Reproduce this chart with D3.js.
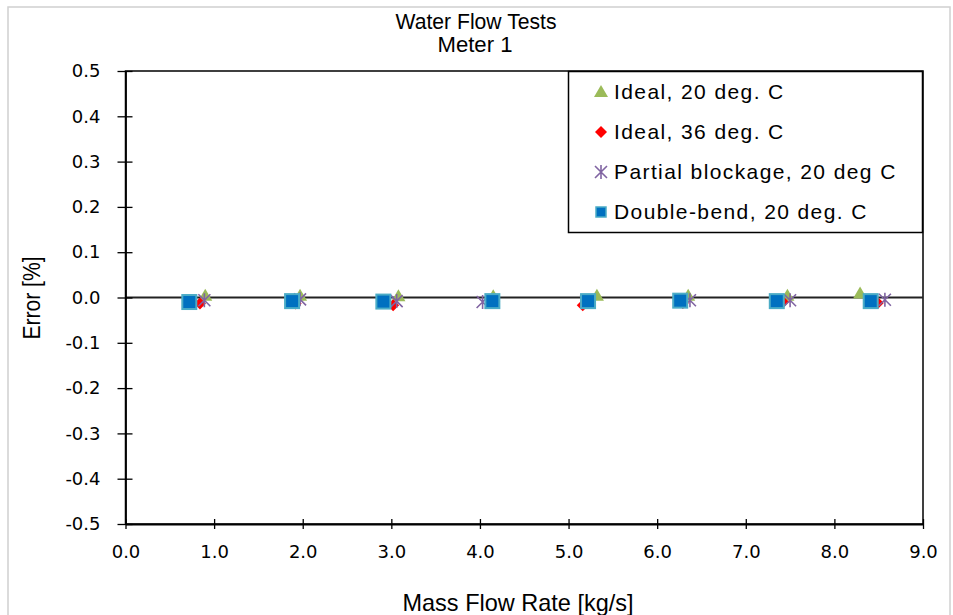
<!DOCTYPE html>
<html>
<head>
<meta charset="utf-8">
<script src="https://cdn.jsdelivr.net/npm/d3@7"></script>
<style>
  body { margin: 0; background: #fff; }
  .narrow { font-family: "Liberation Sans", Arial, sans-serif; }
</style>
</head>
<body>
<svg width="953" height="615"></svg>
<script>
// series
var seriesNames = ["Ideal, 20 deg. C", "Ideal, 36 deg. C", "Partial blockage, 20 deg C", "Double-bend, 20 deg. C"];

var ideal20X = [0.90, 1.97, 3.08, 4.15, 5.32, 6.35, 7.47, 8.29];
var ideal20Y = [0.004, 0.004, 0.003, 0.003, 0.004, 0.004, 0.004, 0.009];

var ideal36X = [0.84, 1.92, 3.02, 4.15, 5.16, 6.29, 7.42, 8.49];
var ideal36Y = [-0.013, -0.013, -0.017, -0.012, -0.017, -0.012, -0.010, -0.012];

var blockX = [0.89, 1.97, 3.06, 4.03, 5.20, 6.37, 7.50, 8.57];
var blockY = [-0.006, -0.004, -0.008, -0.010, -0.008, -0.006, -0.006, -0.005];

var bendX = [0.72, 1.88, 2.91, 4.14, 5.22, 6.26, 7.35, 8.41];
var bendY = [-0.010, -0.008, -0.009, -0.008, -0.008, -0.007, -0.008, -0.008];

var xTicks = [0, 1, 2, 3, 4, 5, 6, 7, 8, 9];
var yTicks = [-0.5, -0.4, -0.3, -0.2, -0.1, 0, 0.1, 0.2, 0.3, 0.4, 0.5];

var svg = d3.select("svg");

var margins = { top: 71, left: 125.5, right: 923, bottom: 524 };

var xScale = d3.scaleLinear().domain([0, 9]).range([margins.left, margins.right]);
var yScale = d3.scaleLinear().domain([-0.5, 0.5]).range([margins.bottom, margins.top]);

// outer chart frame
svg.append("rect")
  .attr("x", 8).attr("y", 7)
  .attr("width", 942).attr("height", 620)
  .attr("fill", "none").attr("stroke", "#d0d0d0").attr("stroke-width", 1.5);

// plot frame
svg.append("rect")
  .attr("x", margins.left).attr("y", margins.top)
  .attr("width", margins.right - margins.left)
  .attr("height", margins.bottom - margins.top)
  .attr("fill", "none").attr("stroke", "#000").attr("stroke-width", 1.5);

// zero line
svg.append("line")
  .attr("x1", margins.left).attr("x2", margins.right)
  .attr("y1", yScale(0)).attr("y2", yScale(0))
  .attr("stroke", "#222").attr("stroke-width", 1.8);

var fmt = function(d) { return d3.format(".1f")(d).replace("\u2212", "-"); };

var xAxis = d3.axisBottom(xScale)
  .tickValues(xTicks)
  .tickSizeInner(5).tickSizeOuter(0)
  .tickPadding(16)
  .tickFormat(fmt);

var yAxis = d3.axisLeft(yScale)
  .tickValues(yTicks)
  .tickSizeInner(8).tickSizeOuter(0)
  .tickPadding(17)
  .tickFormat(fmt);

var gx = svg.append("g")
  .attr("transform", "translate(0," + margins.bottom + ")")
  .call(xAxis);
gx.select(".domain").attr("stroke", "#000").attr("stroke-width", 1.8);
gx.selectAll(".tick line").attr("y1", -5).attr("stroke", "#000").attr("stroke-width", 1.3);
gx.selectAll("text").attr("font-family", "DejaVu Sans, Verdana, sans-serif")
  .attr("font-size", 18).attr("fill", "#000");

var gy = svg.append("g")
  .attr("transform", "translate(" + margins.left + ",0)")
  .call(yAxis);
gy.select(".domain").attr("stroke", "#000").attr("stroke-width", 1.8);
gy.selectAll(".tick line").attr("x2", -8).attr("x1", 7).attr("stroke", "#000").attr("stroke-width", 1.3);
gy.selectAll("text").attr("font-family", "DejaVu Sans, Verdana, sans-serif")
  .attr("font-size", 18).attr("fill", "#000");

// titles (condensed look via textLength)
svg.append("text").attr("class", "narrow")
  .attr("x", 476).attr("y", 29).attr("text-anchor", "middle")
  .attr("font-size", 22).attr("textLength", 161).attr("lengthAdjust", "spacingAndGlyphs")
  .text("Water Flow Tests");
svg.append("text").attr("class", "narrow")
  .attr("x", 475).attr("y", 52).attr("text-anchor", "middle")
  .attr("font-size", 22).attr("textLength", 75).attr("lengthAdjust", "spacingAndGlyphs")
  .text("Meter 1");
svg.append("text").attr("class", "narrow")
  .attr("x", 518).attr("y", 611).attr("text-anchor", "middle")
  .attr("font-size", 24).attr("textLength", 231).attr("lengthAdjust", "spacingAndGlyphs")
  .text("Mass Flow Rate [kg/s]");
svg.append("text").attr("class", "narrow")
  .attr("transform", "translate(40,298) rotate(-90)")
  .attr("text-anchor", "middle")
  .attr("font-size", 23).attr("textLength", 83).attr("lengthAdjust", "spacingAndGlyphs")
  .text("Error [%]");

// marker drawing helpers
var drawTriangle = function(g, x, y) {
  g.append("path")
    .attr("d", "M" + x + "," + (y - 7) + "L" + (x + 7) + "," + (y + 5) + "L" + (x - 7) + "," + (y + 5) + "Z")
    .attr("fill", "#9bbb59");
};
var drawDiamond = function(g, x, y) {
  g.append("path")
    .attr("d", "M" + x + "," + (y - 6) + "L" + (x + 6) + "," + y + "L" + x + "," + (y + 6) + "L" + (x - 6) + "," + y + "Z")
    .attr("fill", "#ff0000");
};
var drawStar = function(g, x, y) {
  g.append("path")
    .attr("d", "M" + (x - 6) + "," + (y - 6) + "L" + (x + 6) + "," + (y + 6) +
               "M" + (x + 6) + "," + (y - 6) + "L" + (x - 6) + "," + (y + 6) +
               "M" + x + "," + (y - 7) + "L" + x + "," + (y + 7))
    .attr("stroke", "#8064a2").attr("stroke-width", 1.6).attr("fill", "none");
};
var drawSquare = function(g, x, y) {
  g.append("rect")
    .attr("x", x - 7).attr("y", y - 7).attr("width", 14).attr("height", 14)
    .attr("fill", "#0070c0").attr("stroke", "#4bacc6").attr("stroke-width", 2);
};

var marks = svg.append("g");
ideal20X.forEach(function(d, i) { drawTriangle(marks, xScale(d), yScale(ideal20Y[i])); });
ideal36X.forEach(function(d, i) { drawDiamond(marks, xScale(d), yScale(ideal36Y[i])); });
blockX.forEach(function(d, i) { drawStar(marks, xScale(d), yScale(blockY[i])); });
bendX.forEach(function(d, i) { drawSquare(marks, xScale(d), yScale(bendY[i])); });

// legend
var legend = svg.append("g");
legend.append("rect")
  .attr("x", 568.5).attr("y", 71.5).attr("width", 354).attr("height", 161)
  .attr("fill", "#fff").attr("stroke", "#000").attr("stroke-width", 1.5);

var drawers = [drawTriangle, drawDiamond, drawStar, function(g, x, y) {
  g.append("rect").attr("x", x - 5).attr("y", y - 5).attr("width", 10).attr("height", 10)
    .attr("fill", "#0070c0").attr("stroke", "#4bacc6").attr("stroke-width", 1.5);
}];

seriesNames.forEach(function(name, i) {
  var y = 92 + i * 40;
  drawers[i](legend, 601, y);
  legend.append("text")
    .attr("x", 614).attr("y", y + 7)
    .attr("font-family", "Liberation Sans, Arial, sans-serif")
    .attr("font-size", 21).attr("letter-spacing", 1.4).text(name);
});
</script>
</body>
</html>
